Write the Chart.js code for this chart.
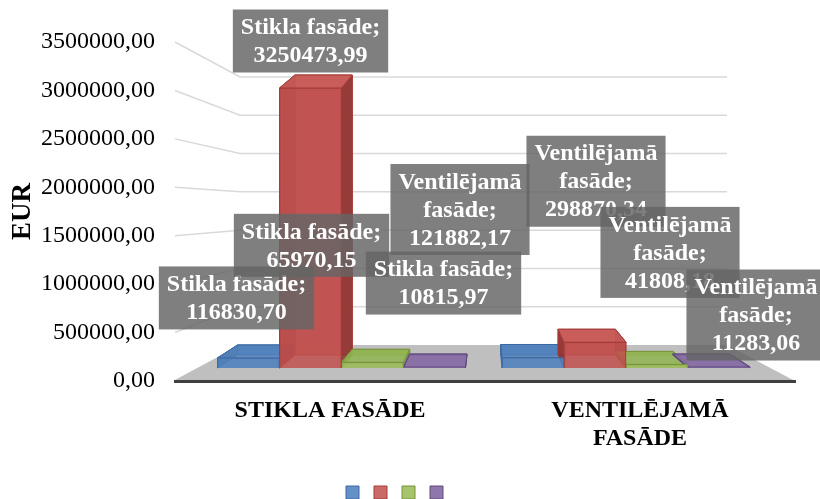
<!DOCTYPE html>
<html>
<head>
<meta charset="utf-8">
<script src="https://cdn.jsdelivr.net/npm/chart.js@4.4.1/dist/chart.umd.min.js"></script>
<style>
  html, body { margin: 0; padding: 0; background: #fff; }
  #wrap { width: 820px; height: 499px; }
</style>
</head>
<body>
<div id="wrap"><canvas id="chart" width="820" height="499"></canvas></div>
<script>
// Kategorijas (fasāžu veidi)
const categories = ['Stikla fasāde', 'Ventilējamā fasāde'];

// Sēriju vērtības, EUR
const seriesBlue = [116830.70, 121882.17];
const seriesRed = [3250473.99, 298870.34];
const seriesGreen = [65970.15, 41808.18];
const seriesPurple = [10815.97, 11283.06];

// Y ass
const yMax = 3500000;
const yStep = 500000;

// ---- izskats ----
const serif = "'Liberation Serif', 'Times New Roman', serif";
const colors = [
    { fill: 'rgba(79,129,189,0.88)', side: 'rgba(55,96,146,0.75)', top: 'rgba(79,129,189,0.8)', border: '#3d6aa3' },
    { fill: 'rgba(192,80,77,0.85)', side: 'rgba(140,50,48,0.85)', top: 'rgba(200,90,87,0.85)', border: '#a53c39' },
    { fill: 'rgba(155,187,89,0.88)', side: 'rgba(113,137,63,0.75)', top: 'rgba(145,180,80,0.85)', border: '#77933c' },
    { fill: 'rgba(128,100,162,0.88)', side: 'rgba(92,71,118,0.75)', top: 'rgba(128,100,162,0.85)', border: '#604a7b' }
];

// datu etiķešu novietojums pret stabiņa augšu [dx, dy] (kā oriģinālā, pārvietotas ar roku)
const labelOffsets = [
    [[-12, -60], [-73, -148]],
    [[0, -47], [1, -161]],
    [[-61, -117], [13, -112]],
    [[9, -84], [37, -52]]
];

function fmt(v) {
    return v.toFixed(2).replace('.', ',');
}

// 1. Sienas, grīda un režģa līnijas (3D iespaids)
function drawWalls(chart) {
    const { ctx, chartArea: a, scales: { y } } = chart;
    const backLeft = a.left + 65;
    const backRight = a.right - 68;
    const backBottom = a.bottom - 36;
    const k = (backBottom - (a.top + 35)) / (a.bottom - a.top);

    ctx.save();
    ctx.fillStyle = '#bfbfbf';
    ctx.beginPath();
    ctx.moveTo(a.left - 2, a.bottom);
    ctx.lineTo(backLeft, backBottom);
    ctx.lineTo(backRight, backBottom);
    ctx.lineTo(a.right, a.bottom);
    ctx.closePath();
    ctx.fill();

    ctx.strokeStyle = '#d9d9d9';
    ctx.lineWidth = 1.5;
    y.ticks.forEach(t => {
        if (t.value === 0) return;
        const yf = y.getPixelForValue(t.value);
        const yb = backBottom - (a.bottom - yf) * k;
        ctx.beginPath();
        ctx.moveTo(a.left, yf);
        ctx.lineTo(backLeft, yb);
        ctx.lineTo(backRight, yb);
        ctx.stroke();
    });
    ctx.restore();
}

// 2. Stabiņu sānu un augšas skaldnes
function backPoint(cx, px, py) {
    return [px + 0.075 * (cx - px), py - 13];
}

function poly(ctx, pts, fill, stroke) {
    ctx.beginPath();
    ctx.moveTo(pts[0][0], pts[0][1]);
    pts.slice(1).forEach(p => ctx.lineTo(p[0], p[1]));
    ctx.closePath();
    ctx.fillStyle = fill;
    ctx.fill();
    ctx.strokeStyle = stroke;
    ctx.lineWidth = 1;
    ctx.stroke();
}

const plugin3d = {
    id: 'bars3d',
    beforeDraw(chart) {
        drawWalls(chart);
    },
    beforeDatasetsDraw(chart) {
        const { ctx, chartArea: a } = chart;
        const cx = (a.left + a.right) / 2;
        ctx.save();
        chart.data.datasets.forEach((ds, di) => {
            const c = colors[di];
            chart.getDatasetMeta(di).data.forEach(bar => {
                const { x, y, base, width } = bar.getProps(['x', 'y', 'base', 'width'], true);
                const L = x - width / 2, R = x + width / 2;
                const ftl = [L, y], ftr = [R, y], fbl = [L, base], fbr = [R, base];
                const btl = backPoint(cx, L, y), btr = backPoint(cx, R, y);
                const bbl = backPoint(cx, L, base), bbr = backPoint(cx, R, base);
                poly(ctx, [btl, btr, bbr, bbl], c.top, c.border);
                poly(ctx, [ftl, btl, bbl, fbl], c.side, c.border);
                poly(ctx, [ftr, btr, bbr, fbr], c.side, c.border);
                poly(ctx, [ftl, ftr, btr, btl], c.top, c.border);
            });
        });
        ctx.restore();
    },
    afterDatasetsDraw(chart) {
        const { ctx } = chart;
        const font = 'bold 24px ' + serif;
        const lineH = 28;
        ctx.save();
        ctx.font = font;
        ctx.textAlign = 'center';
        ctx.textBaseline = 'middle';
        chart.data.datasets.forEach((ds, di) => {
            chart.getDatasetMeta(di).data.forEach((bar, i) => {
                const { x, y } = bar.getProps(['x', 'y'], true);
                // teksts: kategorija; vērtība, aplauzts kā Excel
                const words = (categories[i] + ';').split(' ');
                const lines = [];
                let cur = '';
                words.forEach(w => {
                    const test = cur ? cur + ' ' + w : w;
                    if (cur && ctx.measureText(test).width > 155) {
                        lines.push(cur);
                        cur = w;
                    } else {
                        cur = test;
                    }
                });
                lines.push(cur);
                lines.push(fmt(ds.data[i].y));
                const w = Math.max(...lines.map(l => ctx.measureText(l).width)) + 16;
                const h = lines.length * lineH + 7;
                const off = labelOffsets[di][i];
                const cx = x + off[0], cy = y + off[1];
                ctx.fillStyle = 'rgba(101,101,101,0.83)';
                ctx.fillRect(cx - w / 2, cy - h / 2, w, h);
                ctx.fillStyle = '#ffffff';
                lines.forEach((l, li) => {
                    ctx.fillText(l, cx, cy - h / 2 + 3.5 + lineH * (li + 0.5) + 1);
                });
            });
        });
        ctx.restore();
    }
};

// 3. Datu kopas
const seriesList = [seriesBlue, seriesRed, seriesGreen, seriesPurple];
const datasets = seriesList.map((vals, di) => ({
    label: '',
    data: vals.map((v, i) => ({ x: i, y: v })),
    backgroundColor: colors[di].fill,
    borderColor: colors[di].border,
    borderWidth: 1,
    barThickness: 62,
    xAxisID: 'xb',
    yAxisID: 'yb'
}));

new Chart(document.getElementById('chart'), {
    type: 'bar',
    data: { labels: categories, datasets: datasets },
    options: {
        responsive: false,
        animation: false,
        layout: { padding: { top: 42, left: 0, right: 25, bottom: -10 } },
        scales: {
            x: {
                type: 'category',
                grid: { display: false, drawTicks: false },
                border: { display: true, color: '#404040', width: 3 },
                ticks: {
                    color: '#000',
                    padding: 15,
                    maxRotation: 0,
                    autoSkip: false,
                    font: { family: serif, size: 24, weight: 'bold' },
                    callback: function (value) {
                        const t = this.getLabelForValue(value).toUpperCase();
                        return t.length > 15 ? t.split(' ') : t;
                    }
                },
                afterFit: (s) => { s.height = 96; }
            },
            y: {
                type: 'linear',
                min: 0,
                max: yMax,
                grid: { display: false, drawTicks: false },
                border: { display: false },
                ticks: {
                    stepSize: yStep,
                    color: '#000',
                    padding: 20,
                    font: { family: serif, size: 24 },
                    callback: (v) => fmt(v)
                },
                title: {
                    display: true,
                    text: 'EUR',
                    color: '#000',
                    padding: { top: 7, bottom: 0 },
                    font: { family: serif, size: 27, weight: 'bold' }
                },
                afterFit: (s) => { s.width = 175; }
            },
            // slēptās asis stabiņiem: stabiņu priekšpuse ir dziļāk par ass sākumu
            xb: { type: 'linear', display: false, offset: false, grid: { offset: false }, min: -0.5853, max: 1.594 },
            yb: { type: 'linear', display: false, min: -151000, max: 3784500 }
        },
        plugins: {
            legend: {
                position: 'bottom',
                labels: { boxWidth: 13, boxHeight: 13, padding: 9, font: { size: 12 } }
            },
            tooltip: { enabled: false }
        }
    },
    plugins: [plugin3d]
});
</script>
</body>
</html>
